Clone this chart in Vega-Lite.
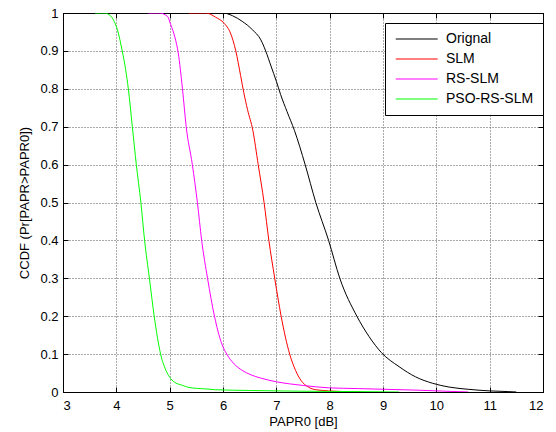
{
  "$schema": "https://vega.github.io/schema/vega-lite/v6.json",
  "autosize": "none",
  "width": 480,
  "height": 379,
  "padding": {"left": 63, "top": 13, "right": 13, "bottom": 40},
  "background": "white",
  "title": {"text": "methods.", "anchor": "start", "dx": -40, "offset": 4, "fontSize": 17, "font": "Liberation Sans", "fontWeight": "bold", "color": "black", "baseline": "bottom"},
  "config": {
    "view": {"stroke": "black", "strokeWidth": 1},
    "font": "Liberation Sans",
    "axis": {
      "labelFont": "Liberation Sans", "labelFontSize": 13, "labelColor": "black",
      "titleFont": "Liberation Sans", "titleFontSize": 13, "titleFontWeight": "normal", "titleColor": "black",
      "domainColor": "black", "tickColor": "black", "tickSize": -5,
      "gridColor": "#444444", "gridDash": [1, 2], "gridOpacity": 0.9
    }
  },
  "data": {"values": [
    {"s": "Orignal", "x": 5.8, "p": 1},
    {"s": "Orignal", "x": 6.0, "p": 1},
    {"s": "Orignal", "x": 6.175, "p": 0.993},
    {"s": "Orignal", "x": 6.36, "p": 0.978},
    {"s": "Orignal", "x": 6.55, "p": 0.956},
    {"s": "Orignal", "x": 6.71, "p": 0.929},
    {"s": "Orignal", "x": 6.8, "p": 0.9},
    {"s": "Orignal", "x": 6.9, "p": 0.86},
    {"s": "Orignal", "x": 7.0, "p": 0.82},
    {"s": "Orignal", "x": 7.08, "p": 0.785},
    {"s": "Orignal", "x": 7.2, "p": 0.74},
    {"s": "Orignal", "x": 7.34, "p": 0.69},
    {"s": "Orignal", "x": 7.54, "p": 0.6},
    {"s": "Orignal", "x": 7.74, "p": 0.5},
    {"s": "Orignal", "x": 7.98, "p": 0.4},
    {"s": "Orignal", "x": 8.19, "p": 0.3},
    {"s": "Orignal", "x": 8.51, "p": 0.2},
    {"s": "Orignal", "x": 8.74, "p": 0.146},
    {"s": "Orignal", "x": 8.97, "p": 0.104},
    {"s": "Orignal", "x": 9.3, "p": 0.067},
    {"s": "Orignal", "x": 9.61, "p": 0.04},
    {"s": "Orignal", "x": 9.93, "p": 0.023},
    {"s": "Orignal", "x": 10.24, "p": 0.013},
    {"s": "Orignal", "x": 10.61, "p": 0.007},
    {"s": "Orignal", "x": 10.99, "p": 0.003},
    {"s": "Orignal", "x": 11.36, "p": 0.001},
    {"s": "Orignal", "x": 11.5, "p": 0},
    {"s": "SLM", "x": 5.36, "p": 1},
    {"s": "SLM", "x": 5.68, "p": 1},
    {"s": "SLM", "x": 5.86, "p": 0.989},
    {"s": "SLM", "x": 6.02, "p": 0.973},
    {"s": "SLM", "x": 6.14, "p": 0.947},
    {"s": "SLM", "x": 6.24, "p": 0.9},
    {"s": "SLM", "x": 6.33, "p": 0.835},
    {"s": "SLM", "x": 6.39, "p": 0.79},
    {"s": "SLM", "x": 6.46, "p": 0.745},
    {"s": "SLM", "x": 6.56, "p": 0.69},
    {"s": "SLM", "x": 6.66, "p": 0.6},
    {"s": "SLM", "x": 6.77, "p": 0.5},
    {"s": "SLM", "x": 6.86, "p": 0.4},
    {"s": "SLM", "x": 6.97, "p": 0.3},
    {"s": "SLM", "x": 7.09, "p": 0.2},
    {"s": "SLM", "x": 7.25, "p": 0.1},
    {"s": "SLM", "x": 7.36, "p": 0.057},
    {"s": "SLM", "x": 7.46, "p": 0.031},
    {"s": "SLM", "x": 7.6, "p": 0.013},
    {"s": "SLM", "x": 7.74, "p": 0.006},
    {"s": "SLM", "x": 7.98, "p": 0.003},
    {"s": "SLM", "x": 8.3, "p": 0.001},
    {"s": "SLM", "x": 8.6, "p": 0},
    {"s": "RS-SLM", "x": 4.6, "p": 1},
    {"s": "RS-SLM", "x": 4.8, "p": 1},
    {"s": "RS-SLM", "x": 4.96, "p": 0.991},
    {"s": "RS-SLM", "x": 5.02, "p": 0.969},
    {"s": "RS-SLM", "x": 5.1, "p": 0.935},
    {"s": "RS-SLM", "x": 5.16, "p": 0.895},
    {"s": "RS-SLM", "x": 5.24, "p": 0.8},
    {"s": "RS-SLM", "x": 5.31, "p": 0.7},
    {"s": "RS-SLM", "x": 5.425, "p": 0.6},
    {"s": "RS-SLM", "x": 5.52, "p": 0.5},
    {"s": "RS-SLM", "x": 5.6, "p": 0.4},
    {"s": "RS-SLM", "x": 5.71, "p": 0.3},
    {"s": "RS-SLM", "x": 5.84, "p": 0.2},
    {"s": "RS-SLM", "x": 5.97, "p": 0.13},
    {"s": "RS-SLM", "x": 6.07, "p": 0.1},
    {"s": "RS-SLM", "x": 6.21, "p": 0.074},
    {"s": "RS-SLM", "x": 6.36, "p": 0.057},
    {"s": "RS-SLM", "x": 6.53, "p": 0.045},
    {"s": "RS-SLM", "x": 6.7, "p": 0.037},
    {"s": "RS-SLM", "x": 7.0, "p": 0.027},
    {"s": "RS-SLM", "x": 7.49, "p": 0.0175},
    {"s": "RS-SLM", "x": 7.98, "p": 0.011},
    {"s": "RS-SLM", "x": 8.54, "p": 0.009},
    {"s": "RS-SLM", "x": 9.6, "p": 0.005},
    {"s": "RS-SLM", "x": 10.6, "p": 0},
    {"s": "PSO-RS-SLM", "x": 3.6, "p": 1},
    {"s": "PSO-RS-SLM", "x": 3.77, "p": 1},
    {"s": "PSO-RS-SLM", "x": 3.86, "p": 0.996},
    {"s": "PSO-RS-SLM", "x": 3.96, "p": 0.978},
    {"s": "PSO-RS-SLM", "x": 4.02, "p": 0.956},
    {"s": "PSO-RS-SLM", "x": 4.11, "p": 0.9},
    {"s": "PSO-RS-SLM", "x": 4.175, "p": 0.85},
    {"s": "PSO-RS-SLM", "x": 4.225, "p": 0.8},
    {"s": "PSO-RS-SLM", "x": 4.3, "p": 0.7},
    {"s": "PSO-RS-SLM", "x": 4.375, "p": 0.6},
    {"s": "PSO-RS-SLM", "x": 4.46, "p": 0.5},
    {"s": "PSO-RS-SLM", "x": 4.53, "p": 0.4},
    {"s": "PSO-RS-SLM", "x": 4.62, "p": 0.3},
    {"s": "PSO-RS-SLM", "x": 4.71, "p": 0.2},
    {"s": "PSO-RS-SLM", "x": 4.83, "p": 0.1},
    {"s": "PSO-RS-SLM", "x": 4.93, "p": 0.057},
    {"s": "PSO-RS-SLM", "x": 5.0, "p": 0.039},
    {"s": "PSO-RS-SLM", "x": 5.08, "p": 0.027},
    {"s": "PSO-RS-SLM", "x": 5.24, "p": 0.0175},
    {"s": "PSO-RS-SLM", "x": 5.36, "p": 0.012},
    {"s": "PSO-RS-SLM", "x": 5.68, "p": 0.008},
    {"s": "PSO-RS-SLM", "x": 5.86, "p": 0.006},
    {"s": "PSO-RS-SLM", "x": 6.5, "p": 0.004},
    {"s": "PSO-RS-SLM", "x": 7.5, "p": 0.002},
    {"s": "PSO-RS-SLM", "x": 8.6, "p": 0.001},
    {"s": "PSO-RS-SLM", "x": 9.3, "p": 0}
  ]},
  "layer": [
    {
      "mark": {"type": "line", "strokeWidth": 1, "clip": true, "interpolate": "monotone"},
      "encoding": {
        "x": {"field": "x", "type": "quantitative", "scale": {"domain": [3, 12], "nice": false}, "axis": {"values": [3,4,5,6,7,8,9,10,11,12], "title": "PAPR0 [dB]", "labelPadding": 12, "titlePadding": 3}},
        "y": {"field": "p", "type": "quantitative", "scale": {"domain": [0, 1], "nice": false}, "axis": {"values": [0,0.1,0.2,0.3,0.4,0.5,0.6,0.7,0.8,0.9,1], "format": ".1~f", "title": "CCDF (Pr[PAPR>PAPR0])", "labelPadding": 10, "titlePadding": 8}},
        "color": {"field": "s", "type": "nominal",
          "scale": {"domain": ["Orignal", "SLM", "RS-SLM", "PSO-RS-SLM"], "range": ["#000000", "#ff0000", "#ff00ff", "#00ff00"]},
          "legend": {"title": null, "orient": "none", "legendX": 322, "legendY": 10, "strokeColor": "black", "fillColor": "white", "padding": 9, "symbolType": "M-1,0H7", "symbolSize": 110, "symbolStrokeWidth": 1.2, "labelFontSize": 14, "labelFont": "Liberation Sans", "labelColor": "black", "rowPadding": 6, "labelOffset": 38}}
      }
    },
    {
      "mark": {"type": "line", "strokeOpacity": 0},
      "encoding": {
        "x": {"field": "x", "type": "quantitative", "scale": {"domain": [3, 12], "nice": false}, "axis": {"orient": "top", "values": [3,4,5,6,7,8,9,10,11,12], "labels": false, "grid": false, "title": null}},
        "y": {"field": "p", "type": "quantitative", "scale": {"domain": [0, 1], "nice": false}, "axis": {"orient": "right", "values": [0,0.1,0.2,0.3,0.4,0.5,0.6,0.7,0.8,0.9,1], "labels": false, "grid": false, "title": null}}
      }
    }
  ],
  "resolve": {"scale": {"x": "independent", "y": "independent"}}
}
